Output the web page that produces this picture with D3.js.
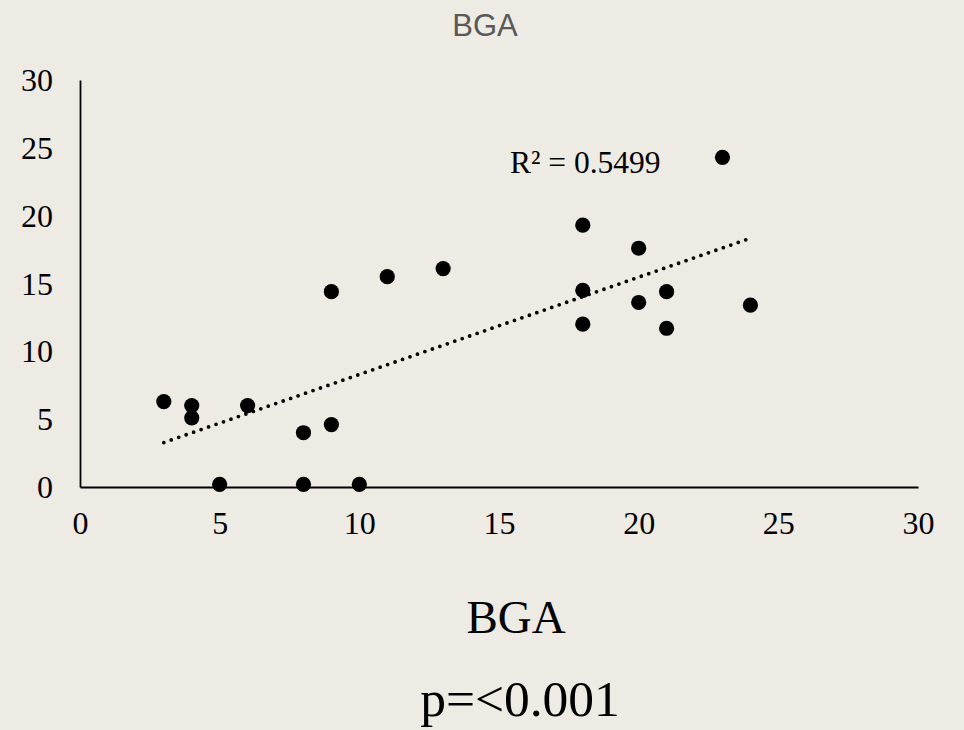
<!DOCTYPE html>
<html>
<head>
<meta charset="utf-8">
<script src="https://cdn.jsdelivr.net/npm/d3@7/dist/d3.min.js"></script>
<style>
  html, body { margin: 0; padding: 0; background: #eeebe4; }
  svg { display: block; }
</style>
</head>
<body>
<svg id="chart" width="964" height="730"></svg>
<script>
// BGA scatter values
const bgaX = [3, 4, 4, 5, 6, 8, 8, 9, 9, 10, 11, 13, 18, 18, 18, 20, 20, 21, 21, 23, 24];
const bgaY = [6.3, 6.0, 5.1, 0.2, 6.0, 4.0, 0.2, 14.4, 4.6, 0.2, 15.5, 16.1, 19.3, 14.5, 12.0, 17.6, 13.6, 14.4, 11.7, 24.3, 13.4];
const xTicks = [0, 5, 10, 15, 20, 25, 30];
const yTicks = [0, 5, 10, 15, 20, 25, 30];
const chartTitle = "BGA";
const axisTitle = "BGA";
const pLabel = "p=<0.001";
const r2Label = "R\u00b2 = 0.5499";

const svg = d3.select("#chart");
const plot = { left: 80, right: 918, top: 80, bottom: 487 };

const x = d3.scaleLinear().domain([0, 30]).range([plot.left, plot.right]);
const y = d3.scaleLinear().domain([0, 30]).range([plot.bottom, plot.top]);

const serif = "'Liberation Serif', 'Times New Roman', serif";

// axes (lines only, no tick marks)
const xAxis = d3.axisBottom(x).tickValues(xTicks).tickSize(0).tickPadding(24);
const yAxis = d3.axisLeft(y).tickValues(yTicks).tickSize(0).tickPadding(27);

const gx = svg.append("g").attr("transform", `translate(0,${plot.bottom})`).call(xAxis);
const gy = svg.append("g").attr("transform", `translate(${plot.left},0)`).call(yAxis);

[gx, gy].forEach(g => {
  g.select(".domain").attr("stroke", "#000").attr("stroke-width", 1.8);
  g.selectAll("text").attr("font-family", serif).attr("font-size", 32).attr("fill", "#000");
});
gx.selectAll("text").attr("dy", "0.71em");
gy.selectAll("text").attr("dy", "0.33em");

// least-squares trendline
const n = bgaX.length;
const mx = d3.mean(bgaX), my = d3.mean(bgaY);
let sxy = 0, sxx = 0;
for (let i = 0; i < n; i++) {
  sxy += (bgaX[i] - mx) * (bgaY[i] - my);
  sxx += (bgaX[i] - mx) ** 2;
}
const slope = sxy / sxx;
const intercept = my - slope * mx;
const [x0, x1] = d3.extent(bgaX);

svg.append("line")
  .attr("x1", x(x0)).attr("y1", y(intercept + slope * x0))
  .attr("x2", x(x1)).attr("y2", y(intercept + slope * x1))
  .attr("stroke", "#000")
  .attr("stroke-width", 3.8)
  .attr("stroke-linecap", "round")
  .attr("stroke-dasharray", "0 7.9");

// points
svg.append("g").selectAll("circle")
  .data(bgaX.map((v, i) => [v, bgaY[i]]))
  .join("circle")
  .attr("cx", d => x(d[0]))
  .attr("cy", d => y(d[1]))
  .attr("r", 7.6)
  .attr("fill", "#000");

// R² annotation
svg.append("text")
  .attr("x", 510).attr("y", 173)
  .attr("font-family", serif).attr("font-size", 31.5)
  .attr("fill", "#000")
  .text(r2Label);

// chart title
svg.append("text")
  .attr("x", 485).attr("y", 36)
  .attr("text-anchor", "middle")
  .attr("font-family", "'Liberation Sans', Arial, sans-serif")
  .attr("font-size", 31)
  .attr("fill", "#595959")
  .text(chartTitle);

// axis title and p-value
svg.append("text")
  .attr("x", 516).attr("y", 633)
  .attr("text-anchor", "middle")
  .attr("font-family", serif).attr("font-size", 47)
  .attr("fill", "#000")
  .text(axisTitle);

svg.append("text")
  .attr("x", 520).attr("y", 716)
  .attr("text-anchor", "middle")
  .attr("font-family", serif).attr("font-size", 51.5)
  .attr("fill", "#000")
  .text(pLabel);
</script>
</body>
</html>
